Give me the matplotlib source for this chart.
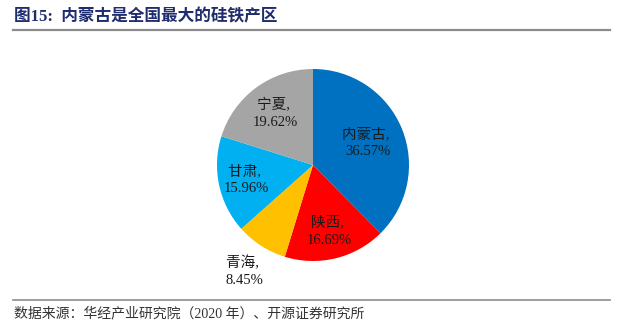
import numpy as np
import matplotlib
import matplotlib.pyplot as plt
from matplotlib.lines import Line2D

matplotlib.rcParams["font.family"] = ["Liberation Serif", "Noto Sans CJK SC"]

regions = ["内蒙古", "陕西", "青海", "甘肃", "宁夏"]
shares = [36.57, 16.69, 8.45, 15.96, 19.62]
colors = ["#0070C0", "#FF0000", "#FFC000", "#00B0F0", "#A5A5A5"]
label_dist = [0.62, 0.71, 1.32, 0.71, 0.66]

W, H = 620, 330
fig = plt.figure(figsize=(W / 100, H / 100), dpi=100)

# pie axes placed by pixel: centre (313,165), radius 96
cx, cy, r = 313, 165, 96
ax = fig.add_axes([(cx - r) / W, (H - cy - r) / H, 2 * r / W, 2 * r / H])
wedges, _ = ax.pie(shares, colors=colors, startangle=90, counterclock=False,
                   wedgeprops={"linewidth": 0})
ax.set_xlim(-1, 1)
ax.set_ylim(-1, 1)
ax.set_aspect("equal")
ax.axis("off")

for w, name, val, d in zip(wedges, regions, shares, label_dist):
    mid = np.deg2rad((w.theta1 + w.theta2) / 2)
    ax.text(d * np.cos(mid), d * np.sin(mid), f"{name}, \n{val:.2f}%",
            ha="center", va="center", fontsize=10.5, color="#1A1A1A", linespacing=1.4)

# title and rules
fig.text(14 / W, 1 - 17 / H, "图15:  内蒙古是全国最大的硅铁产区", ha="left", va="center",
         fontsize=12, fontweight="bold", color="#1F2C6E")
fig.add_artist(Line2D([13 / W, 610 / W], [1 - 30 / H, 1 - 30 / H], color="#8C8C8C", lw=1.6))
fig.add_artist(Line2D([13 / W, 610 / W], [1 - 300 / H, 1 - 300 / H], color="#8C8C8C", lw=1.2))
fig.text(14 / W, 1 - 313 / H, "数据来源：华经产业研究院（2020 年）、开源证券研究所", ha="left", va="center",
         fontsize=10, color="#333333")

fig.savefig("out.png", dpi=100)
